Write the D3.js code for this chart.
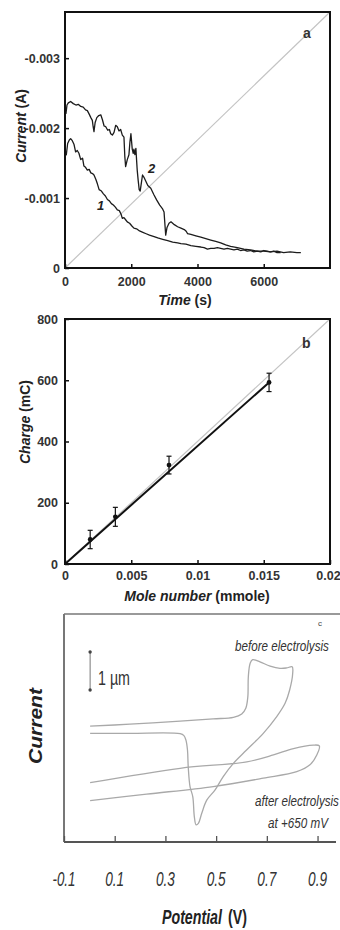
<!DOCTYPE html>
<html>
<head>
<meta charset="utf-8">
<script src="https://cdn.jsdelivr.net/npm/d3@7"></script>
<style>
body{margin:0;background:#fff}
svg{display:block}
</style>
</head>
<body>
<svg id="fig" width="340" height="930"></svg>
<script>
// ---- panel a : current (mA, negative) vs time (s)
var curve1 = [[0,-1.64],[40,-1.62],[80,-1.78],[130,-1.83],[170,-1.85],[220,-1.82],[270,-1.77],[320,-1.66],[370,-1.68],[420,-1.64],[475,-1.55],[530,-1.57],[570,-1.46],[620,-1.44],[675,-1.40],[730,-1.41],[780,-1.36],[830,-1.35],[875,-1.33],[930,-1.27],[980,-1.20],[1030,-1.12],[1100,-1.10],[1160,-1.06],[1220,-1.03],[1280,-0.98],[1340,-0.96],[1400,-0.92],[1460,-0.90],[1520,-0.87],[1580,-0.83],[1640,-0.82],[1700,-0.76],[1730,-0.71],[1780,-0.72],[1830,-0.69],[1880,-0.66],[1950,-0.64],[2020,-0.60],[2080,-0.57],[2160,-0.56],[2250,-0.53],[2350,-0.51],[2450,-0.49],[2550,-0.47],[2690,-0.45],[2800,-0.43],[2950,-0.41],[3100,-0.39],[3250,-0.37],[3400,-0.36],[3500,-0.35],[3650,-0.34],[3800,-0.32],[3950,-0.31],[4100,-0.30],[4200,-0.29],[4300,-0.27],[4400,-0.28],[4500,-0.28],[4600,-0.29],[4700,-0.28],[4800,-0.27],[4900,-0.28],[5000,-0.27],[5100,-0.26],[5200,-0.27],[5300,-0.25],[5400,-0.26],[5500,-0.24],[5600,-0.25],[5700,-0.23],[5800,-0.24],[5910,-0.23],[6000,-0.25],[6100,-0.24],[6200,-0.23],[6300,-0.24],[6400,-0.22],[6510,-0.22]];
var curve2 = [[0,-2.30],[30,-2.21],[60,-2.33],[100,-2.36],[170,-2.38],[250,-2.35],[330,-2.33],[400,-2.34],[475,-2.31],[550,-2.30],[620,-2.26],[675,-2.25],[730,-2.20],[780,-2.15],[825,-2.11],[850,-2.02],[875,-1.95],[910,-2.08],[960,-2.15],[1020,-2.18],[1080,-2.19],[1130,-2.12],[1180,-2.03],[1230,-2.02],[1290,-1.97],[1340,-1.98],[1380,-1.92],[1430,-1.90],[1480,-1.94],[1530,-2.04],[1580,-2.02],[1630,-1.96],[1680,-1.98],[1730,-1.90],[1780,-1.87],[1805,-1.60],[1830,-1.45],[1880,-1.55],[1930,-1.62],[1960,-1.80],[1990,-1.92],[2030,-1.70],[2060,-1.64],[2080,-1.70],[2110,-1.62],[2140,-1.71],[2160,-1.55],[2180,-1.40],[2210,-1.25],[2240,-1.12],[2270,-1.10],[2300,-1.20],[2340,-1.33],[2380,-1.30],[2440,-1.24],[2500,-1.18],[2590,-1.14],[2680,-1.05],[2770,-0.97],[2860,-0.90],[2940,-0.85],[2990,-0.80],[3020,-0.60],[3040,-0.47],[3080,-0.58],[3140,-0.64],[3200,-0.66],[3300,-0.62],[3400,-0.59],[3500,-0.57],[3600,-0.55],[3650,-0.53],[3690,-0.50],[3700,-0.49],[3800,-0.48],[3950,-0.46],[4100,-0.44],[4250,-0.42],[4400,-0.40],[4550,-0.38],[4700,-0.36],[4850,-0.33],[5000,-0.31],[5200,-0.29],[5400,-0.27],[5600,-0.26],[5800,-0.24],[6000,-0.24],[6200,-0.23],[6400,-0.24],[6600,-0.22],[6800,-0.23],[7000,-0.22],[7120,-0.22]];
var timeTicks = [0, 2000, 4000, 6000];
var currentTicks = [0, -1, -2, -3];

// ---- panel b : charge vs mole number
var moles = [0.0019, 0.0038, 0.00785, 0.0154];
var charge = [80, 154, 323, 593];
var chargeErr = [30, 31, 29, 30];
var moleTicks = [0, 0.005, 0.01, 0.015, 0.02];
var chargeTicks = [0, 200, 400, 600, 800];

// ---- panel c : cyclic voltammograms (potential V, current in scale-bar units)
var cvBefore = [[0.003,3.05],[0.16,3.10],[0.358,3.18],[0.488,3.24],[0.568,3.28],[0.601,3.37],[0.617,3.52],[0.625,3.82],[0.627,4.35],[0.634,4.70],[0.644,4.80],[0.673,4.74],[0.713,4.63],[0.752,4.57],[0.778,4.58],[0.800,4.61],[0.802,4.44],[0.790,4.00],[0.772,3.65],[0.739,3.30],[0.686,2.86],[0.620,2.42],[0.568,2.07],[0.528,1.72],[0.496,1.37],[0.463,1.10],[0.443,0.75],[0.430,0.49],[0.421,0.45],[0.414,0.67],[0.408,1.19],[0.397,1.46],[0.390,1.98],[0.387,2.42],[0.381,2.68],[0.373,2.80],[0.358,2.85],[0.16,2.86],[0.003,2.86]];
var cvAfter = [[0.003,1.09],[0.226,1.26],[0.489,1.46],[0.686,1.68],[0.818,1.85],[0.870,2.03],[0.897,2.29],[0.907,2.53],[0.883,2.55],[0.805,2.46],[0.726,2.29],[0.621,2.11],[0.358,1.94],[0.003,1.56]];
var potentialTicks = [-0.1, 0.1, 0.3, 0.5, 0.7, 0.9];

var svg = d3.select("#fig");
var sans = '"Liberation Sans", Arial, sans-serif';

function styleTicks(g){
    g.select(".domain").remove();
    g.selectAll(".tick line").attr("stroke","#111").attr("stroke-width",1.5);
    g.selectAll(".tick text").attr("font-family",sans).attr("font-weight","bold")
        .attr("font-size",12.5).attr("fill","#333");
}

// condensed text: draw at natural size, then squeeze horizontally to the wanted width
function narrowText(parent, x, y, str, size, width, opts){
    opts = opts || {};
    var t = parent.append("text").attr("font-family",sans).attr("font-size",size)
        .attr("fill",opts.fill||"#333").attr("font-style",opts.italic?"italic":"normal")
        .attr("font-weight",opts.bold?"bold":"normal").text(str);
    var w = t.node().getComputedTextLength();
    var k = width / w;
    var anchorShift = opts.anchor==="middle" ? -width/2 : 0;
    var rot = opts.rotate ? " rotate(" + opts.rotate + ")" : "";
    t.attr("transform","translate(" + x + "," + y + ")" + rot + " translate(" + anchorShift + ",0) scale(" + k + ",1)");
    return t;
}

/* ================= panel a ================= */
var xa = d3.scaleLinear().domain([0,8000]).range([65,330]);
var ya = d3.scaleLinear().domain([0,-3.66]).range([268,12]);

svg.append("line").attr("x1",xa(0)).attr("y1",ya(0)).attr("x2",xa(8000)).attr("y2",ya(-3.66))
    .attr("stroke","#c4c4c4").attr("stroke-width",1.2);

var lineA = d3.line().x(function(d){return xa(d[0]);}).y(function(d){return ya(d[1]);});
[curve1, curve2].forEach(function(c){
    svg.append("path").datum(c).attr("d",lineA).attr("fill","none")
        .attr("stroke","#1c1c1c").attr("stroke-width",1.3).attr("stroke-linejoin","round");
});

svg.append("g").attr("transform","translate(0,268)")
    .call(d3.axisBottom(xa).tickValues(timeTicks).tickSize(-4).tickPadding(9).tickFormat(d3.format("d")))
    .call(styleTicks);
svg.append("g").attr("transform","translate(65,0)")
    .call(d3.axisLeft(ya).tickValues(currentTicks).tickSize(-4).tickPadding(5)
        .tickFormat(function(v){ return v===0 ? "0" : "-" + (Math.abs(v)/1000).toFixed(3); }))
    .call(styleTicks);

svg.append("rect").attr("x",xa(0)).attr("y",ya(-3.66)).attr("width",xa(8000)-xa(0)).attr("height",ya(0)-ya(-3.66))
    .attr("fill","none").attr("stroke","#111").attr("stroke-width",2);

svg.append("text").attr("x",303).attr("y",38).attr("font-family",sans).attr("font-weight","bold")
    .attr("font-size",14).attr("fill","#333").text("a");
svg.append("text").attr("x",97).attr("y",210).attr("font-family",sans).attr("font-weight","bold")
    .attr("font-style","italic").attr("font-size",13).attr("fill","#222").text("1");
svg.append("text").attr("x",148).attr("y",173).attr("font-family",sans).attr("font-weight","bold")
    .attr("font-style","italic").attr("font-size",13).attr("fill","#222").text("2");

var tl = svg.append("text").attr("x",185).attr("y",305).attr("text-anchor","middle")
    .attr("font-family",sans).attr("font-weight","bold").attr("font-size",14).attr("fill","#222");
tl.append("tspan").attr("font-style","italic").text("Time");
tl.append("tspan").text(" (s)");

var cl = svg.append("text").attr("transform","translate(26,126) rotate(-90)").attr("text-anchor","middle")
    .attr("font-family",sans).attr("font-weight","bold").attr("font-size",14).attr("fill","#222");
cl.append("tspan").attr("font-style","italic").text("Current");
cl.append("tspan").text(" (A)");

/* ================= panel b ================= */
var xb = d3.scaleLinear().domain([0,0.02]).range([65,330]);
var yb = d3.scaleLinear().domain([0,800]).range([564,319]);

svg.append("line").attr("x1",xb(0)).attr("y1",yb(0)).attr("x2",xb(0.02)).attr("y2",yb(800))
    .attr("stroke","#c4c4c4").attr("stroke-width",1.2);

// fitted line through the origin up to the last point
svg.append("line").attr("x1",xb(0)).attr("y1",yb(0))
    .attr("x2",xb(moles[moles.length-1])).attr("y2",yb(charge[charge.length-1]))
    .attr("stroke","#111").attr("stroke-width",2);

moles.forEach(function(m,i){
    var x = xb(m), y0 = yb(charge[i]-chargeErr[i]), y1 = yb(charge[i]+chargeErr[i]);
    svg.append("line").attr("x1",x).attr("x2",x).attr("y1",y0).attr("y2",y1).attr("stroke","#111").attr("stroke-width",1.2);
    svg.append("line").attr("x1",x-2.5).attr("x2",x+2.5).attr("y1",y0).attr("y2",y0).attr("stroke","#111").attr("stroke-width",1.2);
    svg.append("line").attr("x1",x-2.5).attr("x2",x+2.5).attr("y1",y1).attr("y2",y1).attr("stroke","#111").attr("stroke-width",1.2);
    svg.append("circle").attr("cx",x).attr("cy",yb(charge[i])).attr("r",2.4).attr("fill","#111");
});

svg.append("g").attr("transform","translate(0,564)")
    .call(d3.axisBottom(xb).tickValues(moleTicks).tickSize(-4).tickPadding(7)
        .tickFormat(function(v){ return v===0 ? "0" : String(+v.toFixed(3)); }))
    .call(styleTicks)
    .call(function(g){ g.selectAll(".tick text").filter(function(v){return v===0.02;}).attr("dx",-2); });
svg.append("g").attr("transform","translate(65,0)")
    .call(d3.axisLeft(yb).tickValues(chargeTicks).tickSize(-4).tickPadding(7).tickFormat(d3.format("d")))
    .call(styleTicks);

svg.append("rect").attr("x",xb(0)).attr("y",yb(800)).attr("width",xb(0.02)-xb(0)).attr("height",yb(0)-yb(800))
    .attr("fill","none").attr("stroke","#111").attr("stroke-width",2);

svg.append("text").attr("x",302).attr("y",348).attr("font-family",sans).attr("font-weight","bold")
    .attr("font-size",14).attr("fill","#333").text("b");

var ml = svg.append("text").attr("x",197).attr("y",601).attr("text-anchor","middle")
    .attr("font-family",sans).attr("font-weight","bold").attr("font-size",14).attr("fill","#222");
ml.append("tspan").attr("font-style","italic").text("Mole number");
ml.append("tspan").text(" (mmole)");

var chl = svg.append("text").attr("transform","translate(30,422) rotate(-90)").attr("text-anchor","middle")
    .attr("font-family",sans).attr("font-weight","bold").attr("font-size",14).attr("fill","#222");
chl.append("tspan").attr("font-style","italic").text("Charge");
chl.append("tspan").text(" (mC)");

/* ================= panel c ================= */
var xc = d3.scaleLinear().domain([-0.1,1.0]).range([64,342.9]);
var yc = d3.scaleLinear().domain([0,6]).range([842,614]);

var lineC = d3.line().curve(d3.curveCatmullRom.alpha(0.5))
    .x(function(d){return xc(d[0]);}).y(function(d){return yc(d[1]);});
[cvBefore, cvAfter].forEach(function(c){
    svg.append("path").datum(c).attr("d",lineC).attr("fill","none")
        .attr("stroke","#a9a9a9").attr("stroke-width",1.3);
});

// frame lines: left, top, bottom
svg.append("line").attr("x1",64).attr("x2",64).attr("y1",yc(6)).attr("y2",yc(0)).attr("stroke","#555").attr("stroke-width",1.6);
svg.append("line").attr("x1",64).attr("x2",340).attr("y1",yc(6)).attr("y2",yc(6)).attr("stroke","#777").attr("stroke-width",1.6);

var gc = svg.append("g").attr("transform","translate(0,842)")
    .call(d3.axisBottom(xc).tickValues(potentialTicks).tickSize(-6).tickFormat(""));
gc.select(".domain").remove();
gc.selectAll(".tick line").attr("stroke","#555").attr("stroke-width",1.3);
svg.append("line").attr("x1",64).attr("x2",336).attr("y1",842).attr("y2",842).attr("stroke","#555").attr("stroke-width",1.8);

potentialTicks.forEach(function(v){
    var lab = d3.format(".1f")(v).replace("\u2212","-");
    narrowText(svg, xc(v), 886, lab, 21, v<0 ? 23 : 19, {italic:true, anchor:"middle", fill:"#333"});
});

// scale bar (1 unit of current)
svg.append("line").attr("x1",xc(0.003)).attr("x2",xc(0.003)).attr("y1",yc(5)).attr("y2",yc(4))
    .attr("stroke","#777").attr("stroke-width",1);
[4,5].forEach(function(v){
    svg.append("circle").attr("cx",xc(0.003)).attr("cy",yc(v)).attr("r",1.7).attr("fill","#444");
});
narrowText(svg, 98, 685, "1 \u00b5m", 20, 32, {fill:"#333"});

svg.append("text").attr("x",318).attr("y",626).attr("font-family",sans).attr("font-size",8)
    .attr("fill","#444").text("c");
narrowText(svg, 235, 651, "before electrolysis", 15, 94, {italic:true});
narrowText(svg, 255, 806, "after electrolysis", 15, 84, {italic:true});
narrowText(svg, 268, 828, "at +650 mV", 15, 60, {italic:true});

narrowText(svg, 162, 924, "Potential", 20, 60, {italic:true, bold:true, fill:"#222"});
narrowText(svg, 228, 924, "(V)", 20, 19, {bold:true, fill:"#222"});

narrowText(svg, 42, 726, "Current", 19, 76, {italic:true, bold:true, fill:"#222", anchor:"middle", rotate:-90});
</script>
</body>
</html>
